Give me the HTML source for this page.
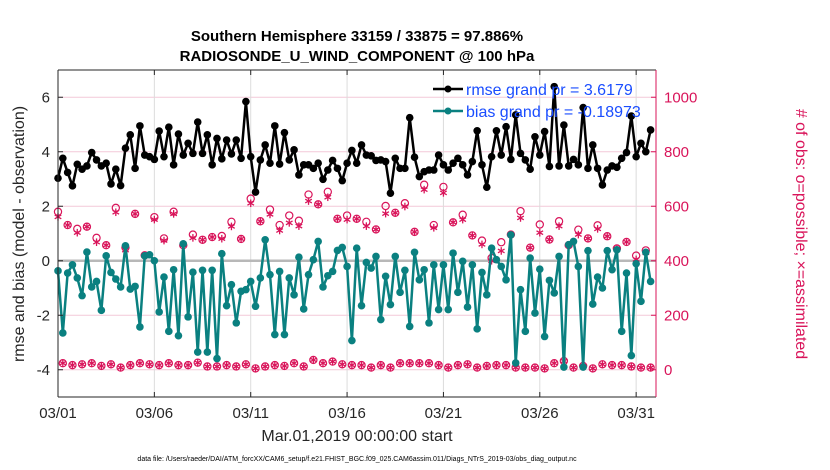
<!DOCTYPE html>
<html><head><meta charset="utf-8"><style>
body{margin:0;background:#fff;}
svg{display:block;font-family:"Liberation Sans",sans-serif;}
</style></head><body>
<svg id="chart" width="830" height="470"></svg>
<script>
const rmse=[3.03,3.76,3.24,2.75,3.54,3.36,3.48,3.97,3.70,3.48,3.58,2.82,3.36,2.76,4.13,4.62,3.39,4.95,3.88,3.82,3.72,4.76,3.82,4.90,3.52,4.65,3.88,4.31,3.94,5.09,
3.94,4.62,3.52,4.49,3.74,4.43,3.92,4.43,3.76,5.84,3.82,2.52,3.70,4.25,3.58,4.95,3.55,4.70,3.70,4.07,3.15,3.52,3.52,3.39,3.58,2.99,3.33,3.68,3.39,2.94,
3.58,4.05,3.58,4.25,3.88,3.85,3.68,3.70,3.64,2.48,3.76,3.39,3.39,5.25,3.80,3.09,3.27,3.33,3.33,3.88,3.52,3.33,3.58,3.76,3.52,3.15,3.64,4.77,3.52,2.70,
3.82,4.77,3.88,4.92,3.72,5.35,3.94,3.70,3.36,4.55,3.88,4.74,3.46,6.39,3.48,4.98,3.48,3.72,3.52,5.62,3.39,4.25,3.39,2.78,3.33,3.48,3.43,3.76,3.97,5.31,3.82,4.31,4.00,4.80];
const bias=[-0.37,-2.65,-0.45,-0.15,-0.63,-1.28,0.32,-0.96,-0.76,-1.82,0.18,-0.43,-0.67,-0.96,0.55,-1.04,-0.94,-2.43,0.18,0.22,0,-1.88,-0.60,-2.59,-0.33,-2.75,0.62,-2.06,-0.42,-3.35,
-0.35,-3.35,-0.35,-3.59,0.26,-1.65,-0.88,-2.28,-1.12,-1.06,-0.76,-1.67,-0.63,0.77,-0.51,-2.71,-0.39,-2.71,-0.63,-1.25,0.13,-1.77,-0.51,0.04,0.71,-0.96,-0.55,-0.39,0.38,0.49,
-0.21,-2.93,0.46,-1.65,-0.06,-0.27,0.16,-2.16,-0.57,-1.61,0.16,-1.16,-0.35,-2.41,0.31,-0.70,-0.33,-2.28,-0.15,-1.79,-0.15,-1.79,0.28,-1.16,-0.02,-1.70,-0.15,-2.50,-0.43,-1.25,
0.46,0.04,-0.21,-0.70,0.95,-3.75,-1.06,-2.59,0.10,-1.92,-0.31,-2.78,-0.72,-1.18,0.16,-3.90,0.59,0.71,-0.21,-3.90,0.37,-1.59,-0.60,-1.00,0.37,-0.33,0.40,-2.59,-0.45,-3.48,-0.11,-1.49,0.31,-0.76];
const possible=[580,24,531,17,517,20,525,24,484,14,457,20,594,8,448,17,572,24,420,20,560,17,482,24,580,17,457,17,496,26,
477,12,487,12,491,17,543,12,480,20,628,5,545,12,588,17,531,14,566,24,547,12,643,36,607,24,653,30,554,20,
566,17,554,17,543,8,515,17,601,8,576,24,611,24,506,24,679,24,531,17,671,8,541,17,569,20,493,8,474,14,
410,17,468,17,496,8,582,8,448,8,533,5,478,24,545,32,457,8,514,14,482,5,530,20,490,17,445,17,469,12,419,8,438,8];
const assimilated=[561,24,531,17,503,20,525,24,468,14,457,20,578,8,439,17,572,24,420,20,551,17,474,24,572,17,457,17,484,26,
477,12,487,12,481,17,526,12,480,20,611,5,545,12,570,17,511,14,539,24,527,12,619,36,607,24,633,30,554,20,
551,17,554,17,527,8,515,17,573,8,576,24,599,24,506,24,661,24,521,17,649,8,541,17,551,20,493,8,460,14,
400,17,436,17,496,8,557,8,448,8,503,5,478,24,527,32,457,8,496,14,482,5,517,20,490,17,445,17,469,12,405,8,429,8];
const leftTicks=[-4,-2,0,2,4,6];
const rightTicks=[0,200,400,600,800,1000];
const dateTicks=[0,5,10,15,20,25,30];
const dateLabels=["03/01","03/06","03/11","03/16","03/21","03/26","03/31"];
const legendRmse="rmse grand pr = 3.6179";
const legendBias="bias grand pr = -0.18973";

const NS="http://www.w3.org/2000/svg";
const svg=document.getElementById('chart');
const X0=58,X1=656,Y0=70,Y1=397;
const xS=d=>X0+(d/31.03)*(X1-X0);
const yL=v=>Y1-(v+5)/12*(Y1-Y0);
const yR=c=>yL(c/100-4);
const pink="#d9145a";
function el(t,a,p){const e=document.createElementNS(NS,t);for(const k in a)e.setAttribute(k,a[k]);(p||svg).appendChild(e);return e;}

const grid=el('g',{});


rightTicks.forEach(c=>{if(c===400)return;const l=el('line',{x1:X0,x2:X1,y1:yR(c),y2:yR(c),stroke:'#f3c9d8','stroke-width':1},grid);
});
dateTicks.forEach(d=>{const l=el('line',{x1:xS(d),x2:xS(d),y1:Y0,y2:Y1,stroke:'#dcdcdc','stroke-width':1},grid);
});
const zl=el('line',{x1:X0,x2:X1,y1:yL(0),y2:yL(0),stroke:'#b8b8b8','stroke-width':2.5});


// obs counts
const obsG=el('g',{});


possible.forEach((c,i)=>{const m=el('circle',{cx:xS(i*0.25),cy:yR(c),r:3.6,fill:'none',stroke:pink,'stroke-width':1.2},obsG);
});
assimilated.forEach((c,i)=>{const x=xS(i*0.25),y=yR(c);const g=el('g',{stroke:pink,'stroke-width':1.3},obsG);

for(let k=0;k<3;k++){const a=k*Math.PI/3+Math.PI/2;el('line',{x1:x-3.8*Math.cos(a),y1:y-3.8*Math.sin(a),x2:x+3.8*Math.cos(a),y2:y+3.8*Math.sin(a)},g);}});

function series(arr,col,name){const g=el('g',{});

el('polyline',{points:arr.map((v,i)=>xS(i*0.25)+','+yL(v)).join(' '),fill:'none',stroke:col,'stroke-width':2.5,'stroke-linejoin':'round'},g);
arr.forEach((v,i)=>{const m=el('circle',{cx:xS(i*0.25),cy:yL(v),r:3.8,fill:col},g);
});}
series(bias,'#0a8080','bias-series');
series(rmse,'#000','rmse-series');

// axes
const ax=el('g',{});

el('line',{x1:X0,x2:X0,y1:Y0,y2:Y1,stroke:'#262626','stroke-width':1},ax);
el('line',{x1:X0,x2:X1,y1:Y1,y2:Y1,stroke:'#262626','stroke-width':1},ax);
el('line',{x1:X0,x2:X1,y1:Y0,y2:Y0,stroke:'#262626','stroke-width':1},ax);
el('line',{x1:X1,x2:X1,y1:Y0,y2:Y1,stroke:pink,'stroke-width':1},ax);
leftTicks.forEach(v=>{el('line',{x1:X0,x2:X0+5,y1:yL(v),y2:yL(v),stroke:'#262626'},ax);
const t=el('text',{x:X0-8,y:yL(v)+5,'text-anchor':'end','font-size':15,fill:'#262626'},ax);t.textContent=v;
});
rightTicks.forEach(c=>{el('line',{x1:X1-5,x2:X1,y1:yR(c),y2:yR(c),stroke:pink},ax);
const t=el('text',{x:X1+8,y:yR(c)+5,'font-size':15,fill:pink},ax);t.textContent=c;
});
dateTicks.forEach((d,i)=>{el('line',{x1:xS(d),x2:xS(d),y1:Y1,y2:Y1-5,stroke:'#262626'},ax);el('line',{x1:xS(d),x2:xS(d),y1:Y0,y2:Y0+5,stroke:'#262626'},ax);
const t=el('text',{x:xS(d),y:418,'text-anchor':'middle','font-size':15,fill:'#262626'},ax);t.textContent=dateLabels[i];
});

function txt(s,a,name){const t=el('text',a);t.textContent=s;return t;}
txt('Southern Hemisphere 33159 / 33875 = 97.886%',{x:357,y:41,'text-anchor':'middle','font-size':15,'font-weight':'bold',fill:'#000'},'chart-title');
txt('RADIOSONDE_U_WIND_COMPONENT @ 100 hPa',{x:357,y:61,'text-anchor':'middle','font-size':15,'font-weight':'bold',fill:'#000'},'chart-subtitle');
txt('Mar.01,2019 00:00:00 start',{x:357,y:441,'text-anchor':'middle','font-size':16,fill:'#262626'},'x-axis-title');
txt('data file: /Users/raeder/DAI/ATM_forcXX/CAM6_setup/f.e21.FHIST_BGC.f09_025.CAM6assim.011/Diags_NTrS_2019-03/obs_diag_output.nc',{x:357,y:461,'text-anchor':'middle','font-size':7,fill:'#000'},'data-file-note');
txt('rmse and bias (model - observation)',{x:0,y:0,transform:'translate(24,234) rotate(-90)','text-anchor':'middle','font-size':16,fill:'#262626'},'y-axis-title-left');
txt('# of obs: o=possible; \u00d7=assimilated',{x:0,y:0,transform:'translate(796,234) rotate(90)','text-anchor':'middle','font-size':16,fill:pink},'y-axis-title-right');

// legend
const lg=el('g',{});

const l1=el('g',{},lg);
el('line',{x1:433,x2:463,y1:89,y2:89,stroke:'#000','stroke-width':2.5},l1);el('circle',{cx:448,cy:89,r:3.5,fill:'#000'},l1);
const t1=el('text',{x:466,y:95,'font-size':16,fill:'#1a4dff'},l1);t1.textContent=legendRmse;
const l2=el('g',{},lg);
el('line',{x1:433,x2:463,y1:111,y2:111,stroke:'#0a8080','stroke-width':2.5},l2);el('circle',{cx:448,cy:111,r:3.5,fill:'#0a8080'},l2);
const t2=el('text',{x:466,y:117,'font-size':16,fill:'#1a4dff'},l2);t2.textContent=legendBias;
</script>
</body></html>
